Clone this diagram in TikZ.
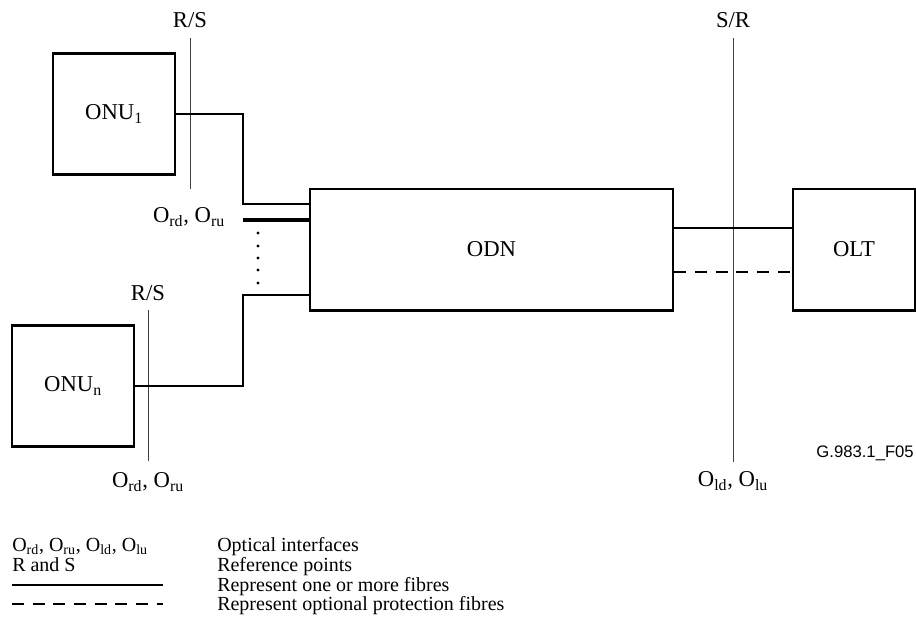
\documentclass[tikz,border=0pt]{standalone}
\usepackage{fontspec}
\setmainfont{Liberation Serif}
\newfontfamily\figfont{Liberation Sans}
\usetikzlibrary{positioning}

\begin{document}
\begin{tikzpicture}[x=0.75pt,y=-0.75pt, every node/.style={font=\fontsize{17}{19}\selectfont}]
\tikzstyle{unit}=[draw,line width=2pt,minimum width=91.5pt,minimum height=91pt,inner sep=0pt]
\tikzstyle{fibre}=[line width=1.6pt]
\tikzstyle{bus}=[line width=3pt]
\tikzstyle{prot}=[fibre,dash pattern=on 9pt off 6.5pt]
\tikzstyle{refline}=[line width=0.75pt,black!75]
\tikzstyle{key}=[anchor=base west,inner sep=0pt,font=\fontsize{15}{17}\selectfont]
\useasboundingbox (0,0) rectangle (916,640);
% network elements
\node[unit] (onu1) at (114,114) {ONU\textsubscript{1}};
\node[unit] (onun) at (73,386) {ONU\textsubscript{n}};
\node[unit,minimum width=272.25pt] (odn) at (491.5,249.5) {ODN};
\node[unit] (olt) at (854,249.5) {OLT};
% reference points
\coordinate (rs1t) at (190,38);
\coordinate (rs1b) at (190,189);
\coordinate (rs2t) at (148,310);
\coordinate (rs2b) at (148,461);
\coordinate (srt) at (733,38);
\coordinate (srb) at (733,462);
\draw[refline] (rs1t)--(rs1b);
\draw[refline] (rs2t)--(rs2b);
\draw[refline] (srt)--(srb);
\node (rs1) at (190,20) {R/S};
\node (rs2) at (148,293) {R/S};
\node (sr) at (733,20) {S/R};
\node (if1) at (189,217) {O\textsubscript{rd}, O\textsubscript{ru}};
\node (if2) at (148,482) {O\textsubscript{rd}, O\textsubscript{ru}};
\node (if3) at (733,481) {O\textsubscript{ld}, O\textsubscript{lu}};
\node[anchor=east,inner sep=0pt,font=\figfont\fontsize{12.5}{15}\selectfont] (fig) at (914,453) {G.983.1\_F05};
% fibres
\coordinate (bend1) at (243,204);
\coordinate (busL) at (243,220);
\coordinate (bend2) at (243,295);
\draw[fibre] (onu1.east) -| (bend1) -- (bend1 -| odn.west);
\draw[bus] (busL) -- (busL -| odn.west);
\draw[fibre] (onun.east) -| (bend2) -- (bend2 -| odn.west);
\foreach \y in {233,246,258,270,283}
  \fill (258,\y) circle (1.3pt);
\draw[fibre] (odn.east |- 0,228) -- (olt.west |- 0,228);
\draw[prot] (odn.east |- 0,272) -- (olt.west |- 0,272);
% legend
\node[key] (k1) at (12,551.5) {O\textsubscript{rd}, O\textsubscript{ru}, O\textsubscript{ld}, O\textsubscript{lu}};
\node[key] (k2) at (12,571.5) {R and S};
\coordinate (k3a) at (12,585);
\coordinate (k3b) at (163,585);
\coordinate (k4a) at (12,604);
\coordinate (k4b) at (163,604);
\draw[fibre] (k3a)--(k3b);
\draw[prot] (k4a)--(k4b);
\node[key] (t1) at (217,551.5) {Optical interfaces};
\node[key] (t2) at (217,571.5) {Reference points};
\node[key] (t3) at (217,591.5) {Represent one or more fibres};
\node[key] (t4) at (217,610.5) {Represent optional protection fibres};
\end{tikzpicture}
\end{document}
